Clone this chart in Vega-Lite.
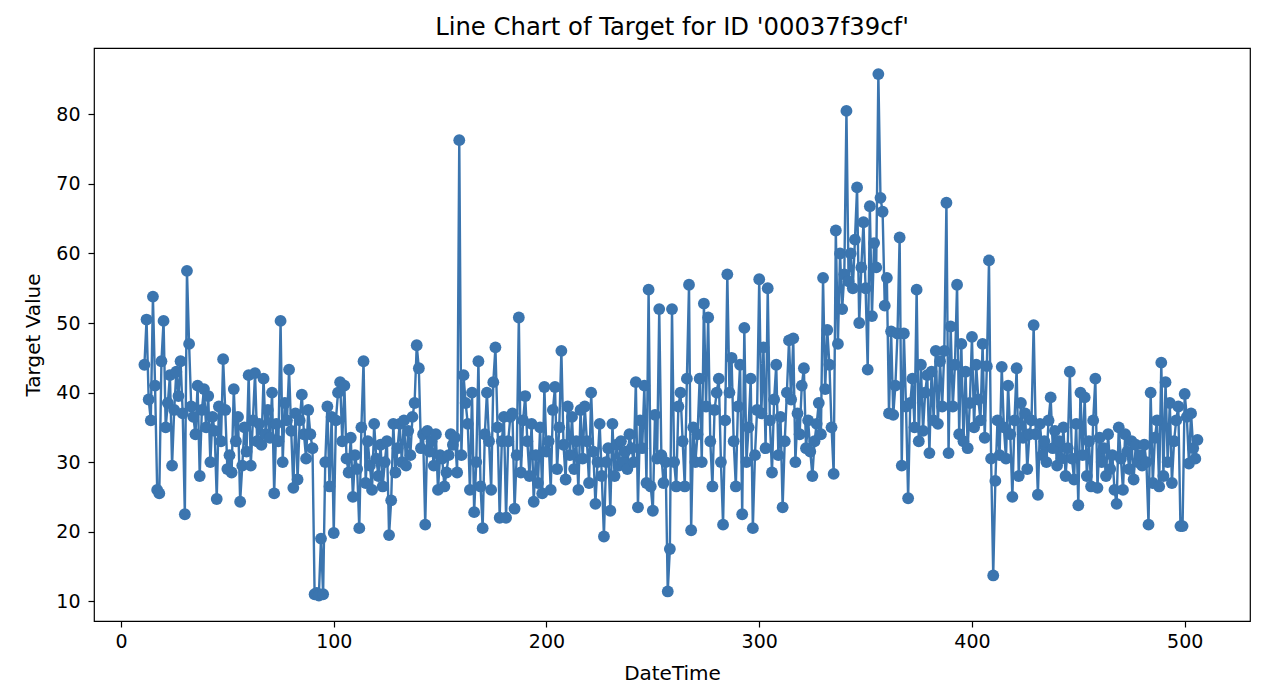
{
  "$schema": "https://vega.github.io/schema/vega-lite/v6.json",
  "width": 1156,
  "height": 573,
  "autosize": {"type": "none"},
  "padding": {"left": 94, "top": 48, "right": 30, "bottom": 75},
  "background": "white",
  "title": {"text": "Line Chart of Target for ID '00037f39cf'", "font": "DejaVu Sans", "fontSize": 24.3, "fontWeight": "normal", "color": "black", "offset": 8, "anchor": "middle"},
  "config": {
    "view": {"stroke": "black", "strokeWidth": 1.2},
    "axis": {"grid": false, "domain": false, "tickColor": "black", "tickSize": 6, "tickWidth": 1.2, "labelFont": "DejaVu Sans", "labelFontSize": 19, "labelColor": "black", "labelPadding": 5, "titleFont": "DejaVu Sans", "titleFontSize": 20, "titleFontWeight": "normal", "titleColor": "black"}
  },
  "data": {"values": [
    {"x":11,"y":44},{"x":12,"y":50.5},{"x":13,"y":39},{"x":14,"y":36},{"x":15,"y":53.8},{"x":16,"y":41},{"x":17,"y":26},{"x":18,"y":25.5},{"x":19,"y":44.5},{"x":20,"y":50.3},
    {"x":21,"y":35},{"x":22,"y":38.5},{"x":23,"y":42.5},{"x":24,"y":29.5},{"x":25,"y":37.5},{"x":26,"y":43},{"x":27,"y":39.5},{"x":28,"y":44.5},{"x":29,"y":37},{"x":30,"y":22.5},
    {"x":31,"y":57.5},{"x":32,"y":47},{"x":33,"y":38},{"x":34,"y":36.5},{"x":35,"y":34},{"x":36,"y":41},{"x":37,"y":28},{"x":38,"y":37.5},{"x":39,"y":40.5},{"x":40,"y":35},
    {"x":41,"y":39.5},{"x":42,"y":30},{"x":43,"y":36.5},{"x":44,"y":34.5},{"x":45,"y":24.7},{"x":46,"y":38},{"x":47,"y":33},{"x":48,"y":44.8},{"x":49,"y":37.5},{"x":50,"y":29},
    {"x":51,"y":31},{"x":52,"y":28.5},{"x":53,"y":40.5},{"x":54,"y":33},{"x":55,"y":36.5},{"x":56,"y":24.3},{"x":57,"y":29.5},{"x":58,"y":35},{"x":59,"y":31.5},{"x":60,"y":42.5},
    {"x":61,"y":29.5},{"x":62,"y":36},{"x":63,"y":42.8},{"x":64,"y":33},{"x":65,"y":35.5},{"x":66,"y":32.5},{"x":67,"y":42},{"x":68,"y":34},{"x":69,"y":37.5},{"x":70,"y":33.5},
    {"x":71,"y":40},{"x":72,"y":25.5},{"x":73,"y":35.5},{"x":74,"y":33},{"x":75,"y":50.3},{"x":76,"y":30},{"x":77,"y":38.5},{"x":78,"y":36},{"x":79,"y":43.3},{"x":80,"y":34.5},
    {"x":81,"y":26.3},{"x":82,"y":37},{"x":83,"y":27.5},{"x":84,"y":36},{"x":85,"y":39.7},{"x":86,"y":34},{"x":87,"y":30.5},{"x":88,"y":37.5},{"x":89,"y":34},{"x":90,"y":32},
    {"x":91,"y":11},{"x":92,"y":11.2},{"x":93,"y":10.8},{"x":94,"y":19},{"x":95,"y":11},{"x":96,"y":30},{"x":97,"y":38},{"x":98,"y":26.5},{"x":99,"y":36.5},{"x":100,"y":19.8},
    {"x":101,"y":36},{"x":102,"y":40},{"x":103,"y":41.5},{"x":104,"y":33},{"x":105,"y":41},{"x":106,"y":30.5},{"x":107,"y":28.5},{"x":108,"y":33.5},{"x":109,"y":25},{"x":110,"y":31},
    {"x":111,"y":29},{"x":112,"y":20.5},{"x":113,"y":35},{"x":114,"y":44.5},{"x":115,"y":27},{"x":116,"y":33},{"x":117,"y":29.5},{"x":118,"y":26},{"x":119,"y":35.5},{"x":120,"y":30.5},
    {"x":121,"y":28},{"x":122,"y":32.5},{"x":123,"y":26.5},{"x":124,"y":30},{"x":125,"y":33},{"x":126,"y":19.5},{"x":127,"y":24.5},{"x":128,"y":35.5},{"x":129,"y":28.5},{"x":130,"y":32},
    {"x":131,"y":35.5},{"x":132,"y":30},{"x":133,"y":36},{"x":134,"y":29.5},{"x":135,"y":34.5},{"x":136,"y":31},{"x":137,"y":36.5},{"x":138,"y":38.5},{"x":139,"y":46.8},{"x":140,"y":43.5},
    {"x":141,"y":32},{"x":142,"y":34},{"x":143,"y":21},{"x":144,"y":34.5},{"x":145,"y":31.5},{"x":146,"y":33},{"x":147,"y":29.5},{"x":148,"y":34},{"x":149,"y":26},{"x":150,"y":31},
    {"x":151,"y":30.5},{"x":152,"y":26.5},{"x":153,"y":28.5},{"x":154,"y":31},{"x":155,"y":34},{"x":156,"y":32.5},{"x":157,"y":33.5},{"x":158,"y":28.5},{"x":159,"y":76.3},{"x":160,"y":31},
    {"x":161,"y":42.5},{"x":162,"y":38.5},{"x":163,"y":35.5},{"x":164,"y":26},{"x":165,"y":40},{"x":166,"y":22.8},{"x":167,"y":30},{"x":168,"y":44.5},{"x":169,"y":26.5},{"x":170,"y":20.5},
    {"x":171,"y":34},{"x":172,"y":40},{"x":173,"y":33},{"x":174,"y":26},{"x":175,"y":41.5},{"x":176,"y":46.5},{"x":177,"y":35},{"x":178,"y":22},{"x":179,"y":33},{"x":180,"y":36.5},
    {"x":181,"y":22},{"x":182,"y":33},{"x":183,"y":36.5},{"x":184,"y":37},{"x":185,"y":23.3},{"x":186,"y":31},{"x":187,"y":50.8},{"x":188,"y":28.5},{"x":189,"y":36},{"x":190,"y":39.5},
    {"x":191,"y":33},{"x":192,"y":28},{"x":193,"y":35.5},{"x":194,"y":24.3},{"x":195,"y":31},{"x":196,"y":27},{"x":197,"y":35},{"x":198,"y":25.5},{"x":199,"y":40.8},{"x":200,"y":31.5},
    {"x":201,"y":33},{"x":202,"y":26},{"x":203,"y":37.5},{"x":204,"y":40.8},{"x":205,"y":29},{"x":206,"y":35},{"x":207,"y":46},{"x":208,"y":32.5},{"x":209,"y":27.5},{"x":210,"y":38},
    {"x":211,"y":31},{"x":212,"y":36.5},{"x":213,"y":29},{"x":214,"y":33},{"x":215,"y":26},{"x":216,"y":37.5},{"x":217,"y":30.5},{"x":218,"y":38},{"x":219,"y":33},{"x":220,"y":27},
    {"x":221,"y":40},{"x":222,"y":31.5},{"x":223,"y":24},{"x":224,"y":30},{"x":225,"y":35.5},{"x":226,"y":28},{"x":227,"y":19.3},{"x":228,"y":30},{"x":229,"y":32},{"x":230,"y":23},
    {"x":231,"y":35.5},{"x":232,"y":28},{"x":233,"y":32.5},{"x":234,"y":29.5},{"x":235,"y":33},{"x":236,"y":30},{"x":237,"y":31.5},{"x":238,"y":29},{"x":239,"y":34},{"x":240,"y":32},
    {"x":241,"y":30},{"x":242,"y":41.5},{"x":243,"y":23.5},{"x":244,"y":36},{"x":245,"y":32},{"x":246,"y":41},{"x":247,"y":27},{"x":248,"y":54.8},{"x":249,"y":26.5},{"x":250,"y":23},
    {"x":251,"y":36.8},{"x":252,"y":30.5},{"x":253,"y":52},{"x":254,"y":31},{"x":255,"y":27},{"x":256,"y":30},{"x":257,"y":11.4},{"x":258,"y":17.5},{"x":259,"y":52},{"x":260,"y":30},
    {"x":261,"y":26.5},{"x":262,"y":38},{"x":263,"y":40},{"x":264,"y":33},{"x":265,"y":26.5},{"x":266,"y":42},{"x":267,"y":55.5},{"x":268,"y":20.2},{"x":269,"y":35},{"x":270,"y":30},
    {"x":271,"y":34},{"x":272,"y":42},{"x":273,"y":30},{"x":274,"y":52.8},{"x":275,"y":38},{"x":276,"y":50.8},{"x":277,"y":33},{"x":278,"y":26.5},{"x":279,"y":37.5},{"x":280,"y":40},
    {"x":281,"y":42},{"x":282,"y":30},{"x":283,"y":21},{"x":284,"y":36},{"x":285,"y":57},{"x":286,"y":40},{"x":287,"y":45},{"x":288,"y":33},{"x":289,"y":26.5},{"x":290,"y":38},
    {"x":291,"y":44},{"x":292,"y":22.5},{"x":293,"y":49.3},{"x":294,"y":30},{"x":295,"y":35},{"x":296,"y":42},{"x":297,"y":20.5},{"x":298,"y":31},{"x":299,"y":37.5},{"x":300,"y":56.3},
    {"x":301,"y":37},{"x":302,"y":46.5},{"x":303,"y":32},{"x":304,"y":55},{"x":305,"y":36},{"x":306,"y":28.5},{"x":307,"y":39},{"x":308,"y":44},{"x":309,"y":31},{"x":310,"y":36.5},
    {"x":311,"y":23.5},{"x":312,"y":33},{"x":313,"y":40},{"x":314,"y":47.5},{"x":315,"y":39},{"x":316,"y":47.8},{"x":317,"y":30},{"x":318,"y":37},{"x":319,"y":34},{"x":320,"y":41},
    {"x":321,"y":43.5},{"x":322,"y":32},{"x":323,"y":36},{"x":324,"y":31.5},{"x":325,"y":28},{"x":326,"y":33},{"x":327,"y":35.5},{"x":328,"y":38.5},{"x":329,"y":34},{"x":330,"y":56.5},
    {"x":331,"y":40.5},{"x":332,"y":49},{"x":333,"y":44},{"x":334,"y":35},{"x":335,"y":28.3},{"x":336,"y":63.3},{"x":337,"y":47},{"x":338,"y":60},{"x":339,"y":52},{"x":340,"y":57},
    {"x":341,"y":80.5},{"x":342,"y":56},{"x":343,"y":60},{"x":344,"y":55},{"x":345,"y":62},{"x":346,"y":69.5},{"x":347,"y":50},{"x":348,"y":58},{"x":349,"y":64.5},{"x":350,"y":55},
    {"x":351,"y":43.3},{"x":352,"y":66.8},{"x":353,"y":51},{"x":354,"y":61.5},{"x":355,"y":58},{"x":356,"y":85.8},{"x":357,"y":68},{"x":358,"y":66},{"x":359,"y":52.5},{"x":360,"y":56.5},
    {"x":361,"y":37},{"x":362,"y":48.8},{"x":363,"y":36.8},{"x":364,"y":41},{"x":365,"y":48.5},{"x":366,"y":62.3},{"x":367,"y":29.5},{"x":368,"y":48.5},{"x":369,"y":38},{"x":370,"y":24.8},
    {"x":371,"y":38.5},{"x":372,"y":42},{"x":373,"y":35},{"x":374,"y":54.8},{"x":375,"y":33},{"x":376,"y":44},{"x":377,"y":34.5},{"x":378,"y":40},{"x":379,"y":42.5},{"x":380,"y":31.3},
    {"x":381,"y":43},{"x":382,"y":36},{"x":383,"y":46},{"x":384,"y":35.5},{"x":385,"y":44.5},{"x":386,"y":38},{"x":387,"y":46},{"x":388,"y":67.3},{"x":389,"y":31.3},{"x":390,"y":49.5},
    {"x":391,"y":38},{"x":392,"y":44},{"x":393,"y":55.5},{"x":394,"y":34},{"x":395,"y":47},{"x":396,"y":33},{"x":397,"y":43},{"x":398,"y":32},{"x":399,"y":38.5},{"x":400,"y":48},
    {"x":401,"y":35},{"x":402,"y":44},{"x":403,"y":39},{"x":404,"y":36},{"x":405,"y":47},{"x":406,"y":33.5},{"x":407,"y":43.8},{"x":408,"y":59},{"x":409,"y":30.5},{"x":410,"y":13.7},
    {"x":411,"y":27.3},{"x":412,"y":36},{"x":413,"y":31},{"x":414,"y":43.7},{"x":415,"y":35},{"x":416,"y":30.5},{"x":417,"y":41},{"x":418,"y":34},{"x":419,"y":25},{"x":420,"y":36},
    {"x":421,"y":43.5},{"x":422,"y":28},{"x":423,"y":38.5},{"x":424,"y":33.5},{"x":425,"y":37},{"x":426,"y":29},{"x":427,"y":34},{"x":428,"y":36},{"x":429,"y":49.7},{"x":430,"y":34},
    {"x":431,"y":25.3},{"x":432,"y":35.5},{"x":433,"y":31},{"x":434,"y":33},{"x":435,"y":30},{"x":436,"y":36},{"x":437,"y":39.3},{"x":438,"y":32},{"x":439,"y":34.5},{"x":440,"y":29.5},
    {"x":441,"y":33},{"x":442,"y":30.5},{"x":443,"y":35},{"x":444,"y":28},{"x":445,"y":32},{"x":446,"y":43},{"x":447,"y":30.5},{"x":448,"y":27.5},{"x":449,"y":35.5},{"x":450,"y":23.8},
    {"x":451,"y":40},{"x":452,"y":31},{"x":453,"y":39.3},{"x":454,"y":28},{"x":455,"y":33},{"x":456,"y":26.5},{"x":457,"y":36},{"x":458,"y":42},{"x":459,"y":26.3},{"x":460,"y":33.5},
    {"x":461,"y":30},{"x":462,"y":32},{"x":463,"y":28},{"x":464,"y":34},{"x":465,"y":29},{"x":466,"y":31},{"x":467,"y":26},{"x":468,"y":24},{"x":469,"y":35},{"x":470,"y":30.5},
    {"x":471,"y":26},{"x":472,"y":34},{"x":473,"y":31.5},{"x":474,"y":29},{"x":475,"y":33},{"x":476,"y":27.5},{"x":477,"y":32.5},{"x":478,"y":30},{"x":479,"y":31},{"x":480,"y":29.5},
    {"x":481,"y":32.5},{"x":482,"y":30},{"x":483,"y":21},{"x":484,"y":40},{"x":485,"y":27},{"x":486,"y":33.5},{"x":487,"y":36},{"x":488,"y":26.5},{"x":489,"y":44.3},{"x":490,"y":28},
    {"x":491,"y":41.5},{"x":492,"y":30},{"x":493,"y":38.5},{"x":494,"y":27},{"x":495,"y":33},{"x":496,"y":36},{"x":497,"y":38},{"x":498,"y":20.8},{"x":499,"y":20.8},{"x":500,"y":39.8},
    {"x":501,"y":36.5},{"x":502,"y":29.8},{"x":503,"y":37},{"x":504,"y":32},{"x":505,"y":30.5},{"x":506,"y":33.2}
  ]},
  "mark": {"type": "line", "color": "#3b75af", "strokeWidth": 2.4, "point": {"filled": true, "size": 140, "color": "#3b75af", "opacity": 1}},
  "encoding": {
    "x": {"field": "x", "type": "quantitative", "scale": {"domain": [-12.7, 530.7], "nice": false, "zero": false}, "axis": {"values": [0, 100, 200, 300, 400, 500], "title": "DateTime", "titlePadding": 12}},
    "y": {"field": "y", "type": "quantitative", "scale": {"domain": [7.15, 89.55], "nice": false, "zero": false}, "axis": {"values": [10, 20, 30, 40, 50, 60, 70, 80], "title": "Target Value", "labelPadding": 8, "titlePadding": 12}}
  }
}
